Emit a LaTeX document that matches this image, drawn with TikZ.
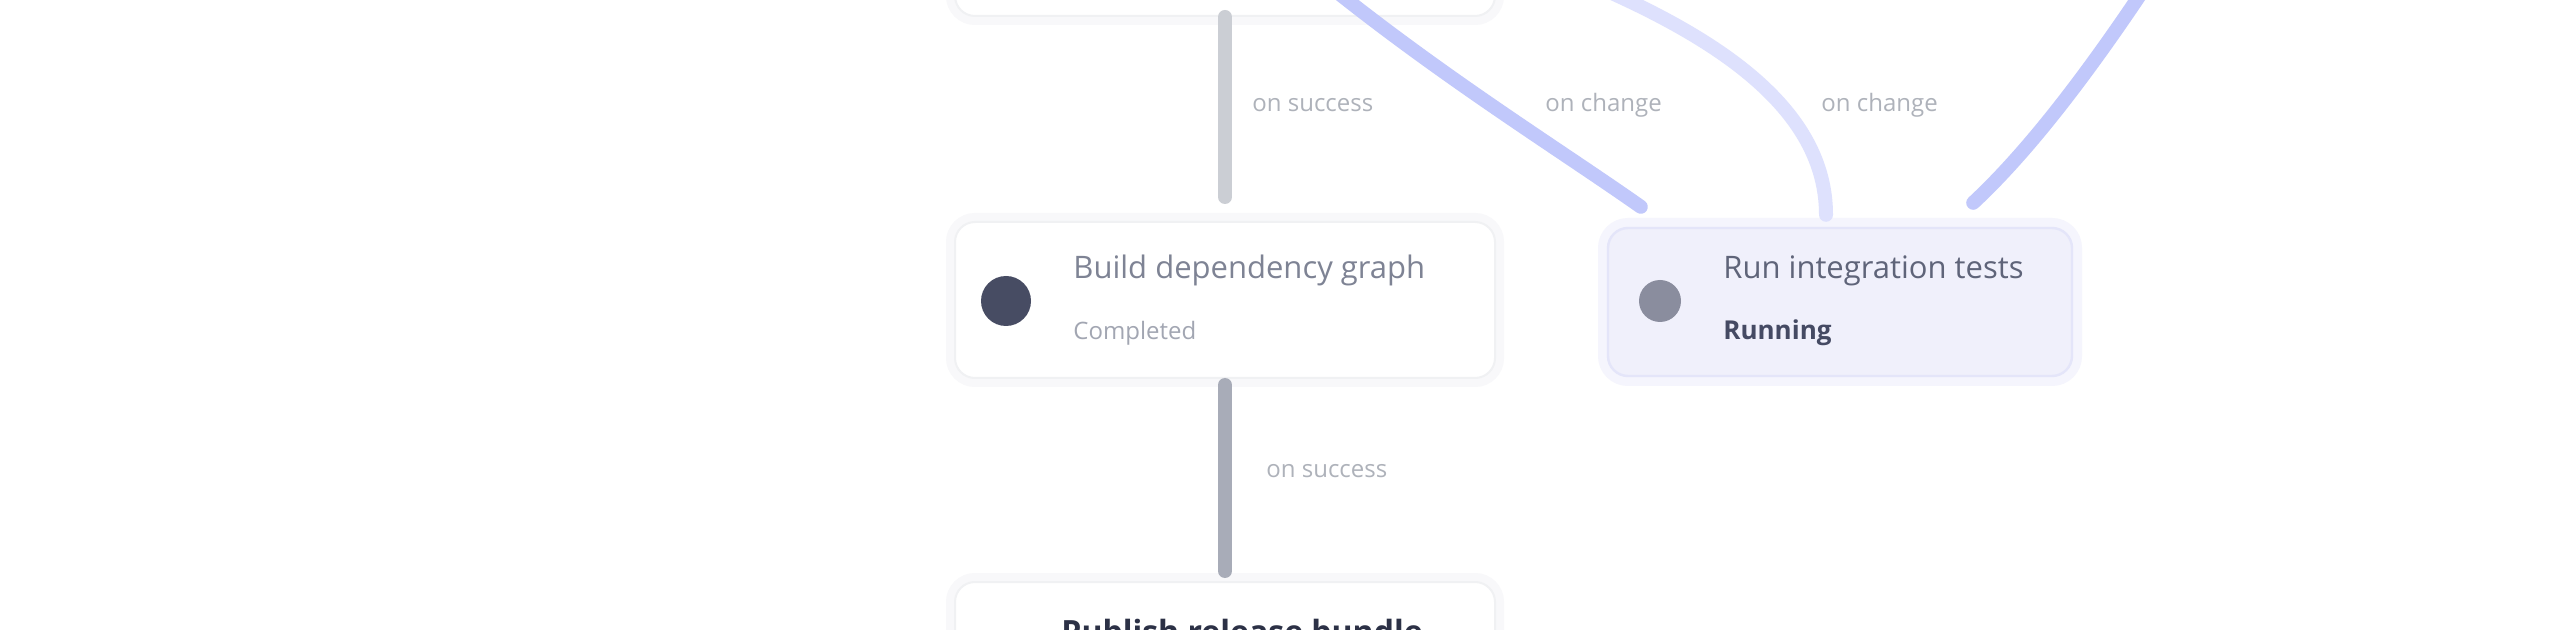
\documentclass[tikz,border=0pt]{standalone}
\usepackage{fontspec}
\setmainfont{Open Sans}
\usetikzlibrary{calc}
\definecolor{cardline}{HTML}{F0F1F3}
\definecolor{cardglow}{HTML}{F8F8FA}
\definecolor{selfill}{HTML}{F0F0FB}
\definecolor{selline}{HTML}{E4E5F9}
\definecolor{selglow}{HTML}{F5F5FD}
\definecolor{dotdark}{HTML}{474C63}
\definecolor{dotmid}{HTML}{8A8D9E}
\definecolor{edgelight}{HTML}{CBCED4}
\definecolor{edgedark}{HTML}{A8ACB8}
\definecolor{edgeblue}{HTML}{C1C8FB}
\definecolor{edgepale}{HTML}{DEE1FD}
\definecolor{labelgrey}{HTML}{AEB2BA}
\definecolor{titlegrey}{HTML}{7E8394}
\definecolor{subgrey}{HTML}{A2A6B2}
\definecolor{seltitle}{HTML}{5F6479}
\definecolor{selsub}{HTML}{454A63}
\definecolor{darktitle}{HTML}{2C3146}
\begin{document}
\begin{tikzpicture}[x=0.5pt,y=-0.5pt,
  card/.style={rectangle, rounded corners=10pt, minimum width=270pt, minimum height=78pt,
    draw=cardline, line width=1pt, fill=white, preaction={draw=cardglow, line width=9pt}},
  selcard/.style={rectangle, rounded corners=10pt, minimum width=232pt, minimum height=74pt,
    draw=selline, line width=1.2pt, fill=selfill, preaction={draw=selglow, line width=10pt}},
  statedot/.style={circle, inner sep=0pt, minimum size=#1},
  title/.style={anchor=base west, inner sep=0pt, font=\fontsize{15.5}{17}\selectfont},
  subtitle/.style={anchor=base west, inner sep=0pt, font=\fontsize{12}{14}\selectfont},
  elabel/.style={anchor=base west, inner sep=0pt, text=labelgrey, font=\fontsize{12}{14}\selectfont},
  greyedge/.style={line width=7pt, line cap=round},
  blueedge/.style={line width=7pt, line cap=round, draw=edgeblue},
  paleedge/.style={line width=7pt, line cap=round, draw=edgepale}
]
\useasboundingbox (0,0) rectangle (2560,630);
\clip (0,0) rectangle (2560,630);
\fill[white] (0,0) rectangle (2560,630);

% cards
\node[card] (P) at (1225,-62) {};
\node[card] (A) at (1225,300) {};
\node[selcard] (B) at (1840,302) {};
\node[card] (C) at (1225,660) {};

% free ends of connectors coming from above
\coordinate (ua) at (1332,-12);
\coordinate (ub) at (1596,-14);
\coordinate (uc) at (2146,-14);

% connectors
\draw[greyedge, draw=edgelight, shorten >=12pt] (P.south) -- (A.north);
\draw[greyedge, draw=edgedark, shorten <=3pt, shorten >=5pt] (A.south) -- (C.north);
\draw[blueedge] (ua) .. controls (1450,82) and (1560,150) .. ($(B.north west)+(34,-20)$);
\draw[paleedge] (ub) .. controls (1720,40) and (1826,110) .. ($(B.north)+(-14,-12)$);
\draw[blueedge] (uc) .. controls (2090,70) and (2030,150) .. ($(B.north east)+(-100,-24)$);

% edge labels
\node[elabel] (l1) at (1252,112) {on success};
\node[elabel] (l2) at (1545,112) {on change};
\node[elabel] (l3) at (1821,112) {on change};
\node[elabel] (l4) at (1266,478) {on success};

% card A contents
\node[statedot=25pt, fill=dotdark] (Ad) at (1006,301) {};
\node[title, text=titlegrey] (At) at (1073,279) {Build dependency graph};
\node[subtitle, text=subgrey] (As) at (1073,340) {Completed};

% card B contents
\node[statedot=21pt, fill=dotmid] (Bd) at (1660,301) {};
\node[title, text=seltitle] (Bt) at (1723,279) {Run integration tests};
\node[subtitle, text=selsub, font=\fontsize{13}{15}\selectfont\bfseries] (Bs) at (1723,340) {Running};

% card C contents
\node[title, text=darktitle, font=\fontsize{16}{18}\selectfont\bfseries] (Ct) at (1061,643) {Publish release bundle};
\end{tikzpicture}
\end{document}
